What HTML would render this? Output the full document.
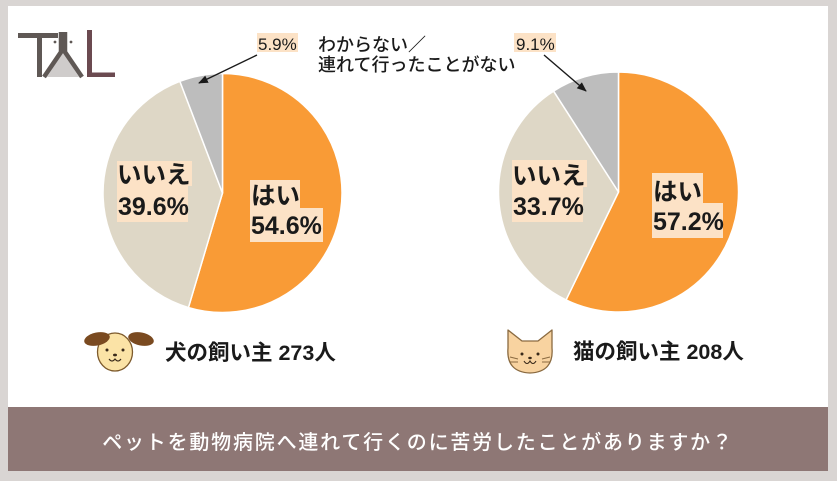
<!DOCTYPE html>
<html>
<head>
<meta charset="utf-8">
<style>
  html,body{margin:0;padding:0;}
  body{width:837px;height:481px;overflow:hidden;background:#d9d5d3;}
  svg{display:block;}
  .t{font-family:"Liberation Sans","Noto Sans CJK JP",sans-serif;}
</style>
</head>
<body>
<svg width="837" height="481" viewBox="0 0 837 481" xmlns="http://www.w3.org/2000/svg">
  <rect x="0" y="0" width="837" height="481" fill="#d9d5d3"/>
  <rect x="8" y="6" width="820" height="401" fill="#ffffff"/>
  <rect x="8" y="407" width="820" height="64" fill="#8e7775"/>

  <!-- Logo TAL -->
  <g>
    <rect x="18" y="33" width="40" height="5" fill="#5f5855"/>
    <rect x="37" y="33" width="5" height="44" fill="#5f5855"/>
    <polygon points="63,52 79,77 47,77" fill="#cfcccb"/>
    <polyline points="44,77 61,52 61,32" fill="none" stroke="#5f5855" stroke-width="4.5"/>
    <polyline points="82,77 65,52 65,32" fill="none" stroke="#5f5855" stroke-width="4.5"/>
    <circle cx="55" cy="42" r="1.4" fill="#5f5855"/>
    <circle cx="71" cy="42" r="1.4" fill="#5f5855"/>
    <rect x="87" y="30" width="5" height="47" fill="#6b4a50"/>
    <rect x="87" y="72.5" width="28" height="4.5" fill="#6b4a50"/>
  </g>

  <!-- Left pie -->
  <g stroke="#ffffff" stroke-width="1.5" stroke-linejoin="round">
    <path d="M222.5,193 L222.5,73.5 A119.5,119.5 0 1 1 188.44,307.54 Z" fill="#f99b36"/>
    <path d="M222.5,193 L188.44,307.54 A119.5,119.5 0 0 1 179.91,81.35 Z" fill="#ded7c6"/>
    <path d="M222.5,193 L179.91,81.35 A119.5,119.5 0 0 1 222.5,73.5 Z" fill="#bdbdbd"/>
  </g>

  <!-- Right pie -->
  <g stroke="#ffffff" stroke-width="1.5" stroke-linejoin="round">
    <path d="M618.5,192 L618.5,72 A120,120 0 1 1 566.05,299.93 Z" fill="#f99b36"/>
    <path d="M618.5,192 L566.05,299.93 A120,120 0 0 1 553.58,91.08 Z" fill="#ded7c6"/>
    <path d="M618.5,192 L553.58,91.08 A120,120 0 0 1 618.5,72 Z" fill="#bdbdbd"/>
  </g>

  <!-- Label boxes -->
  <g fill="#fce2c6">
    <rect x="117" y="161" width="75" height="25"/>
    <rect x="117" y="186" width="71" height="36"/>
    <rect x="250" y="180" width="50" height="28"/>
    <rect x="250" y="208" width="73" height="34"/>
    <rect x="512" y="160" width="75" height="27"/>
    <rect x="512" y="187" width="71" height="35"/>
    <rect x="652" y="173" width="51" height="30"/>
    <rect x="652" y="203" width="71" height="35"/>
    <rect x="257" y="33" width="41" height="19"/>
    <rect x="514" y="33" width="42" height="19"/>
  </g>

  <g class="t" fill="#1a1a1a" font-weight="bold" font-size="24.5">
    <text x="117" y="183">いいえ</text>
    <text x="118" y="215" font-size="25">39.6%</text>
    <text x="251" y="204">はい</text>
    <text x="251" y="234" font-size="25">54.6%</text>
    <text x="512" y="184">いいえ</text>
    <text x="513" y="215" font-size="25">33.7%</text>
    <text x="653" y="200">はい</text>
    <text x="653" y="230" font-size="25">57.2%</text>
  </g>

  <g class="t" fill="#1a1a1a" font-size="17">
    <text x="258" y="50">5.9%</text>
    <text x="516" y="50">9.1%</text>
  </g>
  <g class="t" fill="#1a1a1a" font-size="18" font-weight="500">
    <text x="318" y="51">わからない／</text>
    <text x="318" y="71">連れて行ったことがない</text>
  </g>

  <!-- Arrows -->
  <defs>
    <marker id="ah" viewBox="0 0 10 10" refX="9" refY="5" markerWidth="7" markerHeight="7" orient="auto">
      <path d="M0,1 L10,5 L0,9 Z" fill="#1a1a1a"/>
    </marker>
  </defs>
  <line x1="257" y1="55" x2="199" y2="83" stroke="#1a1a1a" stroke-width="1.4" marker-end="url(#ah)"/>
  <line x1="544" y1="55" x2="586" y2="91" stroke="#1a1a1a" stroke-width="1.4" marker-end="url(#ah)"/>

  <!-- Dog icon -->
  <g>
    <ellipse cx="115" cy="352" rx="17.5" ry="19" fill="#fbe3a6" stroke="#7d5a2c" stroke-width="1.3"/>
    <ellipse cx="97" cy="339" rx="13" ry="6.5" transform="rotate(-12 97 339)" fill="#7a4a20"/>
    <ellipse cx="141" cy="339" rx="13" ry="6.5" transform="rotate(12 141 339)" fill="#7a4a20"/>
    <circle cx="107" cy="350" r="1.5" fill="#3a2a1a"/>
    <circle cx="123" cy="350" r="1.5" fill="#3a2a1a"/>
    <ellipse cx="115" cy="355" rx="2" ry="1.4" fill="#3a2a1a"/>
    <path d="M109,359 Q112,363 115,359 Q118,363 121,359" fill="none" stroke="#3a2a1a" stroke-width="1.1"/>
  </g>
  <text class="t" x="165" y="360" font-size="21.5" font-weight="bold" fill="#1a1a1a">犬の飼い主 273人</text>

  <!-- Cat icon -->
  <g>
    <path d="M508,330 L522,341 L538,341 L552,330 L552,348 Q554,372 530,373 Q506,372 508,348 Z" fill="#f8d3a0" stroke="#8a6a40" stroke-width="1.3" stroke-linejoin="round"/>
    <circle cx="522" cy="354" r="1.5" fill="#3a2a1a"/>
    <circle cx="538" cy="354" r="1.5" fill="#3a2a1a"/>
    <ellipse cx="530" cy="358" rx="1.8" ry="1.2" fill="#3a2a1a"/>
    <path d="M524,361 Q527,366 530,361 Q533,366 536,361" fill="none" stroke="#3a2a1a" stroke-width="1.1"/>
    <path d="M510,357 L518,359 M510,362 L518,362 M550,357 L542,359 M550,362 L542,362" stroke="#8a6a40" stroke-width="1"/>
  </g>
  <text class="t" x="573" y="359" font-size="21.5" font-weight="bold" fill="#1a1a1a">猫の飼い主 208人</text>

  <!-- Bottom band text -->
  <text class="t" x="418" y="449" font-size="20" font-weight="500" fill="#ffffff" text-anchor="middle" letter-spacing="1.8">ペットを動物病院へ連れて行くのに苦労したことがありますか？</text>
</svg>
</body>
</html>
